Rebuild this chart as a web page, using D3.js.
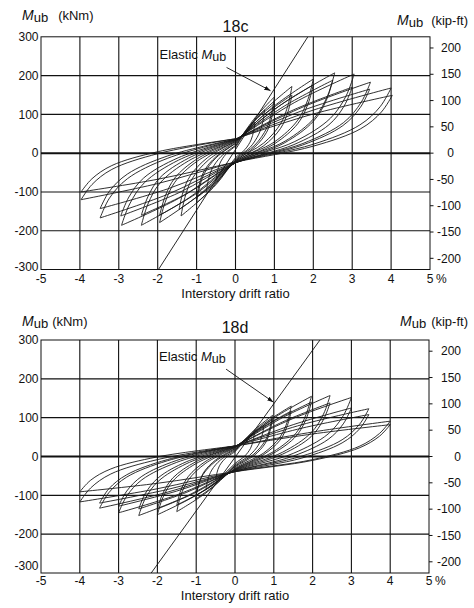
<!DOCTYPE html>
<html><head><meta charset="utf-8">
<script src="https://cdn.jsdelivr.net/npm/d3@7"></script>
<style>body{margin:0;background:#fff}svg{font-family:"Liberation Sans",Arial,Helvetica,sans-serif}</style>
</head><body><svg id="c" width="474" height="608"></svg>
<script>
// ---------- data ----------
const driftTicks = [-5,-4,-3,-2,-1,0,1,2,3,4,5];
const driftGrid = [-4,-3,-2,-1,0,1,2,3,4];
const kNmTicks = [300,200,100,0,-100,-200,-300];
const kNmGrid = [200,100,0,-100,-200];
const kipTicks = [200,150,100,50,0,-50,-100,-150,-200];
const kipToKNm = 1.35582;

// each cycle: [drift %, Mub kNm] points: start, +load mid, +tip, unload x3, zero, -load mid, -tip, unload x3, end
const cycles18c = [
 [[0,15],[0.25,52],[0.5,80],[0.465,57],[0.4,34],[0.25,10],[0,-12],[-0.25,-45],[-0.5,-70],[-0.465,-48],[-0.4,-26],[-0.25,-3],[0,18]],
 [[0,18],[0.375,72],[0.75,112],[0.70,80],[0.6,49],[0.375,15],[0,-15],[-0.375,-63],[-0.75,-100],[-0.70,-70],[-0.6,-40],[-0.375,-9],[0,20]],
 [[0,20],[0.5,91],[1.0,145],[0.93,104],[0.8,64],[0.5,21],[0,-18],[-0.5,-81],[-1.0,-128],[-0.93,-90],[-0.8,-52],[-0.5,-12],[0,25]],
 [[0,25],[0.5,84],[1.0,128],[0.93,91],[0.8,54],[0.5,16],[0,-20],[-0.5,-74],[-1.0,-115],[-0.93,-80],[-0.8,-45],[-0.5,-9],[0,25]],
 [[0,25],[0.725,109],[1.45,172],[1.35,124],[1.16,76],[0.725,26],[0,-20],[-0.7,-101],[-1.4,-162],[-1.3,-114],[-1.12,-67],[-0.7,-18],[0,28]],
 [[0,28],[0.725,98],[1.45,150],[1.35,107],[1.16,64],[0.725,19],[0,-22],[-0.725,-92],[-1.45,-145],[-1.35,-101],[-1.16,-58],[-0.725,-12],[0,30]],
 [[0,30],[1.0,122],[2.0,191],[1.86,138],[1.6,85],[1.0,29],[0,-22],[-0.975,-111],[-1.95,-179],[-1.81,-127],[-1.56,-75],[-0.975,-20],[0,30]],
 [[0,30],[1.0,113],[2.0,176],[1.86,126],[1.6,76],[1.0,24],[0,-24],[-0.975,-102],[-1.95,-160],[-1.81,-112],[-1.56,-64],[-0.975,-14],[0,32]],
 [[0,32],[1.275,132],[2.55,207],[2.37,149],[2.04,92],[1.275,31],[0,-24],[-1.21,-116],[-2.42,-186],[-2.25,-131],[-1.94,-77],[-1.21,-20],[0,33]],
 [[0,33],[1.25,121],[2.5,188],[2.33,135],[2.0,82],[1.25,26],[0,-25],[-1.21,-102],[-2.42,-160],[-2.25,-112],[-1.94,-63],[-1.21,-13],[0,34]],
 [[0,34],[1.525,131],[3.05,204],[2.84,147],[2.44,90],[1.525,30],[0,-25],[-1.465,-117],[-2.93,-186],[-2.72,-131],[-2.34,-76],[-1.465,-18],[0,35]],
 [[0,35],[1.5,112],[3.0,170],[2.79,121],[2.4,73],[1.5,22],[0,-25],[-1.475,-103],[-2.95,-162],[-2.74,-113],[-2.36,-64],[-1.475,-12],[0,35]],
 [[0,35],[1.735,119],[3.47,183],[3.23,131],[2.78,79],[1.735,25],[0,-25],[-1.74,-106],[-3.48,-167],[-3.24,-116],[-2.78,-66],[-1.74,-13],[0,36]],
 [[0,36],[1.725,110],[3.45,165],[3.21,118],[2.76,71],[1.725,21],[0,-24],[-1.74,-92],[-3.48,-143],[-3.24,-98],[-2.78,-54],[-1.74,-7],[0,36]],
 [[0,36],[2.0,111],[4.0,168],[3.72,120],[3.2,73],[2.0,23],[0,-23],[-1.985,-78],[-3.97,-120],[-3.69,-81],[-3.18,-42],[-1.985,-1],[0,37]],
 [[0,37],[2.0,101],[4.03,149],[3.75,106],[3.22,63],[2.0,18],[0,-23],[-1.985,-67],[-3.97,-100],[-3.69,-66],[-3.18,-32],[-1.985,4],[0,37]]
];
const cycles18d = [
 [[0,12],[0.25,39],[0.5,60],[0.465,40],[0.4,21],[0.25,1],[0,-18],[-0.25,-42],[-0.5,-60],[-0.465,-42],[-0.4,-24],[-0.25,-5],[0,12]],
 [[0,14],[0.375,52],[0.75,80],[0.70,55],[0.6,29],[0.375,3],[0,-22],[-0.375,-58],[-0.75,-85],[-0.70,-60],[-0.6,-35],[-0.375,-9],[0,15]],
 [[0,16],[0.485,67],[0.97,106],[0.9,73],[0.78,41],[0.485,6],[0,-25],[-0.51,-73],[-1.02,-110],[-0.95,-78],[-0.82,-46],[-0.51,-13],[0,18]],
 [[0,18],[0.485,62],[0.97,95],[0.9,65],[0.78,34],[0.485,2],[0,-27],[-0.5,-69],[-1.0,-100],[-0.93,-70],[-0.8,-40],[-0.5,-9],[0,20]],
 [[0,20],[0.725,83],[1.45,130],[1.35,90],[1.16,50],[0.725,8],[0,-30],[-0.75,-94],[-1.5,-142],[-1.4,-101],[-1.2,-60],[-0.75,-17],[0,22]],
 [[0,22],[0.725,76],[1.45,117],[1.35,80],[1.16,42],[0.725,4],[0,-32],[-0.75,-85],[-1.5,-125],[-1.4,-88],[-1.2,-51],[-0.75,-12],[0,23]],
 [[0,23],[0.985,98],[1.97,155],[1.83,108],[1.58,61],[0.985,12],[0,-33],[-1.0,-100],[-2.0,-150],[-1.86,-106],[-1.6,-63],[-1.0,-18],[0,24]],
 [[0,24],[0.985,90],[1.97,140],[1.83,96],[1.58,53],[0.985,8],[0,-34],[-1.0,-92],[-2.0,-135],[-1.86,-95],[-1.6,-55],[-1.0,-13],[0,25]],
 [[0,25],[1.225,100],[2.45,157],[2.28,109],[1.96,61],[1.225,11],[0,-35],[-1.24,-102],[-2.48,-152],[-2.31,-108],[-1.98,-64],[-1.24,-18],[0,25]],
 [[0,25],[1.225,89],[2.45,138],[2.28,95],[1.96,51],[1.225,6],[0,-36],[-1.24,-92],[-2.48,-135],[-2.31,-95],[-1.98,-55],[-1.24,-13],[0,26]],
 [[0,26],[1.5,98],[3.0,152],[2.79,105],[2.4,58],[1.5,8],[0,-37],[-1.5,-99],[-3.0,-145],[-2.79,-102],[-2.4,-60],[-1.5,-15],[0,26]],
 [[0,26],[1.5,82],[3.0,125],[2.79,84],[2.4,44],[1.5,1],[0,-38],[-1.5,-89],[-3.0,-128],[-2.79,-89],[-2.4,-51],[-1.5,-10],[0,27]],
 [[0,27],[1.725,82],[3.45,123],[3.21,83],[2.76,43],[1.725,1],[0,-38],[-1.745,-92],[-3.49,-133],[-3.25,-93],[-2.79,-53],[-1.745,-11],[0,27]],
 [[0,27],[1.725,73],[3.45,108],[3.21,71],[2.76,35],[1.725,-4],[0,-39],[-1.745,-85],[-3.49,-120],[-3.25,-83],[-2.79,-47],[-1.745,-8],[0,27]],
 [[0,27],[2.0,63],[4.0,91],[3.72,59],[3.2,26],[2.0,-8],[0,-39],[-2.0,-83],[-4.0,-117],[-3.72,-81],[-3.2,-45],[-2.0,-8],[0,27]],
 [[0,27],[2.0,58],[4.0,82],[3.72,52],[3.2,22],[2.0,-10],[0,-39],[-2.0,-69],[-4.0,-91],[-3.72,-61],[-3.2,-32],[-2.0,-1],[0,27]]
];
const elastic18c = [[-1.98,-300],[1.86,300]];
const elastic18d = [[-2.16,-300],[2.19,300]];
const arrow18c = [[-0.23,221],[0.9,161]];
const arrow18d = [[-0.23,225],[0.99,140]];

// ---------- drawing ----------
const svg = d3.select("#c");
const defs = svg.append("defs");
defs.append("marker").attr("id","ah").attr("viewBox","0 0 10 10").attr("refX",10).attr("refY",5)
  .attr("markerWidth",7).attr("markerHeight",7).attr("orient","auto-start-reverse")
  .append("path").attr("d","M0,1.5L10,5L0,8.5z").attr("fill","#111");

function panel(o){
  const x = d3.scaleLinear().domain([-5,5]).range([o.left,o.right]);
  const y = d3.scaleLinear().domain([-300,300]).range([o.bottom,o.top]);
  const g = svg.append("g");
  const cid = "clip"+o.title;
  defs.append("clipPath").attr("id",cid).append("rect")
    .attr("x",o.left).attr("y",o.top).attr("width",o.right-o.left).attr("height",o.bottom-o.top);

  // grid
  g.selectAll(".vg").data(driftGrid).join("line")
    .attr("x1",d=>x(d)).attr("x2",d=>x(d)).attr("y1",o.top).attr("y2",o.bottom)
    .attr("stroke","#111").attr("stroke-width",1.1);
  g.selectAll(".hg").data(kNmGrid).join("line")
    .attr("x1",o.left).attr("x2",o.right).attr("y1",d=>y(d)).attr("y2",d=>y(d))
    .attr("stroke","#111").attr("stroke-width",d=>d===0?2:1.1);
  g.append("rect").attr("x",o.left).attr("y",o.top).attr("width",o.right-o.left).attr("height",o.bottom-o.top)
    .attr("fill","none").attr("stroke","#111").attr("stroke-width",1);

  // loops
  const line = d3.line().x(d=>x(d[0])).y(d=>y(d[1])).curve(d3.curveCatmullRom.alpha(0.5));
  const lg = g.append("g").attr("clip-path",`url(#${cid})`);
  o.cycles.forEach(c=>{
    [c.slice(0,3), c.slice(2,9), c.slice(8,13)].forEach(seg=>{
      lg.append("path").attr("d",line(seg)).attr("fill","none").attr("stroke","#1a1a1a").attr("stroke-width",0.9);
    });
  });
  // elastic line
  lg.append("path").attr("d",d3.line().x(d=>x(d[0])).y(d=>y(d[1]))(o.elastic))
    .attr("fill","none").attr("stroke","#111").attr("stroke-width",0.9);
  // arrow
  g.append("line").attr("x1",x(o.arrow[0][0])).attr("y1",y(o.arrow[0][1]))
    .attr("x2",x(o.arrow[1][0])).attr("y2",y(o.arrow[1][1]))
    .attr("stroke","#111").attr("stroke-width",0.9).attr("marker-end","url(#ah)");
  const el = g.append("text").attr("x",x(o.arrow[0][0])-67).attr("y",y(o.arrow[0][1])-8)
    .attr("font-size",13).attr("fill","#111");
  el.append("tspan").text("Elastic ");
  el.append("tspan").attr("font-style","italic").text("M");
  el.append("tspan").attr("dy",2).attr("font-size",12.5).text("ub");

  // left ticks
  g.selectAll(".lt").data(kNmTicks).join("text").attr("x",38.5)
    .attr("y",d=>y(d)+4.2-(d===-300?o.minLift:0))
    .attr("text-anchor","end").attr("font-size",12).attr("fill","#111").text(d=>d);
  // right ticks
  g.selectAll(".rtk").data(kipTicks).join("line")
    .attr("x1",o.right).attr("x2",o.right+3.5).attr("y1",d=>y(d*kipToKNm)).attr("y2",d=>y(d*kipToKNm))
    .attr("stroke","#111").attr("stroke-width",1);
  g.selectAll(".rt").data(kipTicks).join("text")
    .attr("x",d=> o.rightAlignAll||Math.abs(d)>=100 ? 461 : 454)
    .attr("y",d=>y(d*kipToKNm)).attr("dy","0.35em")
    .attr("text-anchor","end").attr("font-size",12).attr("fill","#111").text(d=>d);
  // bottom ticks
  g.selectAll(".bt").data(driftTicks).join("text").attr("x",d=>x(d)).attr("y",o.bottom+o.tickDy)
    .attr("text-anchor","middle").attr("font-size",12).attr("fill","#111").text(d=>d);
  g.append("text").attr("x",x(5)+6).attr("y",o.bottom+o.tickDy).attr("font-size",12).attr("fill","#111").text("%");
  g.append("text").attr("x",x(0)).attr("y",o.bottom+o.titleDy).attr("text-anchor","middle")
    .attr("font-size",13).attr("fill","#111").text("Interstory drift ratio");
  // title
  g.append("text").attr("x",x(0)).attr("y",o.top+o.hdrDy).attr("text-anchor","middle")
    .attr("font-size",16).attr("fill","#111").text(o.title);
  // unit labels
  const ul = g.append("text").attr("x",22).attr("y",o.top+o.lUnitDy).attr("font-size",13).attr("fill","#111");
  ul.append("tspan").attr("font-style","italic").attr("font-size",14).text("M");
  ul.append("tspan").attr("dy",2).text("ub");
  ul.append("tspan").attr("dy",-2).attr("dx",o.kNmGap).text("(kNm)");
  const ur = g.append("text").attr("x",o.rUnitX).attr("y",o.top+o.rUnitDy).attr("font-size",13).attr("fill","#111");
  ur.append("tspan").attr("font-style","italic").attr("font-size",14).text("M");
  ur.append("tspan").attr("dy",2).text("ub");
  ur.append("tspan").attr("dy",-2).attr("dx",o.kipGap).text("(kip-ft)");
}

panel({title:"18c",left:41,right:430,top:36.8,bottom:269.5,cycles:cycles18c,elastic:elastic18c,arrow:arrow18c,
  tickDy:13.5,titleDy:28,hdrDy:-5,lUnitDy:-17,rUnitDy:-12,kNmGap:10,rUnitX:397,kipGap:8,rightAlignAll:false,minLift:3});
panel({title:"18d",left:41,right:429,top:340,bottom:573,cycles:cycles18d,elastic:elastic18d,arrow:arrow18d,
  tickDy:12,titleDy:26.5,hdrDy:-7,lUnitDy:-14,rUnitDy:-14,kNmGap:4,rUnitX:400,kipGap:5,rightAlignAll:true,minLift:7.5});
</script></body></html>
